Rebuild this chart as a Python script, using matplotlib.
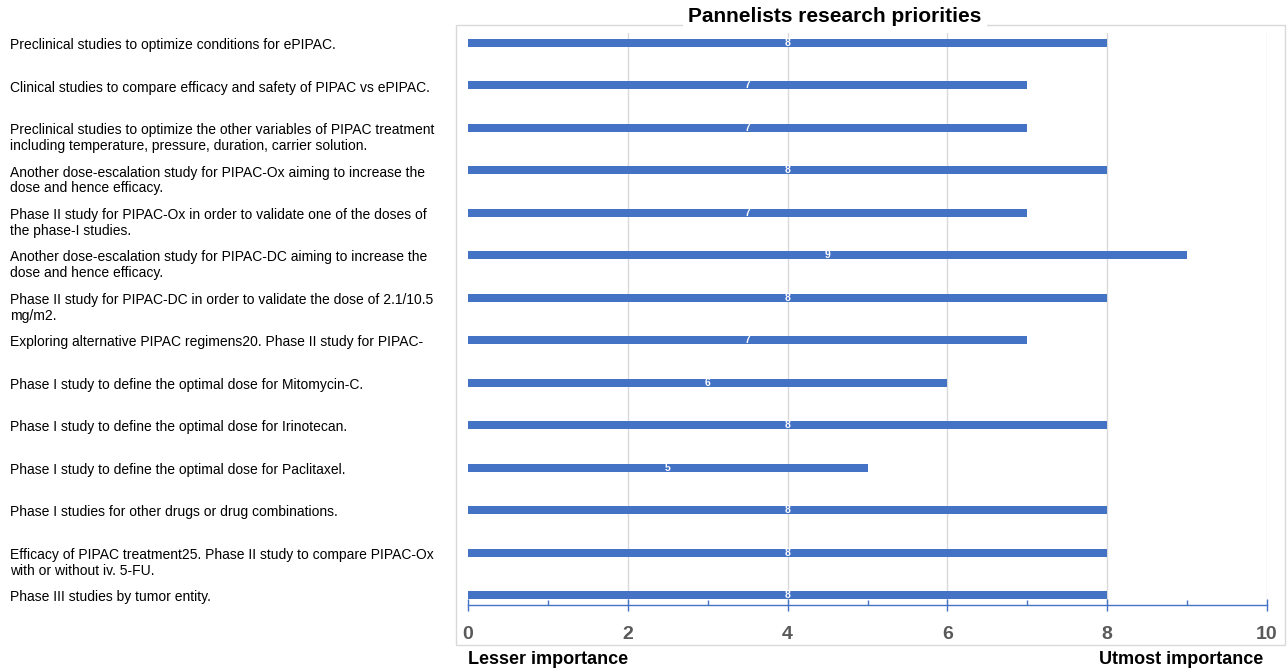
import matplotlib.pyplot as plt
from matplotlib.patches import Rectangle
import numpy as np

# research priorities, top to bottom
priorities = [
    "Preclinical studies to optimize conditions for ePIPAC.",
    "Clinical studies to compare efficacy and safety of PIPAC vs ePIPAC.",
    "Preclinical studies to optimize the other variables of PIPAC treatment\nincluding temperature, pressure, duration, carrier solution.",
    "Another dose-escalation study for PIPAC-Ox aiming to increase the\ndose and hence efficacy.",
    "Phase II study for PIPAC-Ox in order to validate one of the doses of\nthe phase-I studies.",
    "Another dose-escalation study for PIPAC-DC aiming to increase the\ndose and hence efficacy.",
    "Phase II study for PIPAC-DC in order to validate the dose of 2.1/10.5\nmg/m2.",
    "Exploring alternative PIPAC regimens20. Phase II study for PIPAC-",
    "Phase I study to define the optimal dose for Mitomycin-C.",
    "Phase I study to define the optimal dose for Irinotecan.",
    "Phase I study to define the optimal dose for Paclitaxel.",
    "Phase I studies for other drugs or drug combinations.",
    "Efficacy of PIPAC treatment25. Phase II study to compare PIPAC-Ox\nwith or without iv. 5-FU.",
    "Phase III studies by tumor entity.",
]
scores = [8, 7, 7, 8, 7, 9, 8, 7, 6, 8, 5, 8, 8, 8]
major_ticks = [0, 2, 4, 6, 8, 10]
minor_ticks = [1, 3, 5, 7, 9]

BLUE = "#4472C4"
GRID = "#D9D9D9"
narrow = ["Liberation Sans Narrow", "Liberation Sans", "DejaVu Sans"]
regular = ["Liberation Sans", "DejaVu Sans"]

W, H = 1287, 671
fig = plt.figure(figsize=(W / 100, H / 100), dpi=100)

# outer chart frame
fig.patches.append(Rectangle((456 / W, 1 - 645 / H), (1285 - 456) / W, (645 - 25) / H,
                             transform=fig.transFigure, fill=False,
                             edgecolor=GRID, linewidth=1))

ax = fig.add_axes([468 / W, 1 - 605 / H, 799 / W, 572 / H])
ypos = np.arange(len(scores))
ax.barh(ypos, scores, height=0.19, color=BLUE, zorder=3)

# value labels in the middle of each bar
for y, v in zip(ypos, scores):
    ax.text(v / 2, y, str(v), color="white", fontsize=7.5, fontweight="bold",
            ha="center", va="center", family=regular, zorder=4)

# category labels at the left of the figure
for y, lab in zip(ypos, priorities):
    ax.annotate(lab, xy=(10 / W, y), xycoords=("figure fraction", "data"),
                xytext=(0, 3.5), textcoords="offset points",
                ha="left", va="top", fontsize=10, family=regular,
                linespacing=1.18, annotation_clip=False)

ax.set_xlim(0, 10)
ax.set_ylim(len(scores) - 1 + 0.235, -0.235)
ax.set_yticks([])
ax.set_xticks(major_ticks)
ax.set_xticks(minor_ticks, minor=True)
ax.set_xticklabels([str(t) for t in major_ticks], fontsize=14, fontweight="bold",
                   color="#595959", family=narrow)
ax.tick_params(axis="x", which="major", direction="inout", length=8.6,
               color=BLUE, width=1, pad=11)
ax.tick_params(axis="x", which="minor", direction="in", length=3.6,
               color=BLUE, width=1)

for s in ["left", "right", "top"]:
    ax.spines[s].set_visible(False)
ax.spines["bottom"].set_color(BLUE)
ax.spines["bottom"].set_linewidth(1)

ax.xaxis.grid(True, color=GRID, linewidth=1, zorder=0)
ax.xaxis.get_gridlines()[0].set_visible(False)

fig.text(835 / W, 1 - 17 / H, "Pannelists research priorities", ha="center", va="center",
         fontsize=15, fontweight="bold", family=narrow,
         bbox=dict(facecolor="white", edgecolor="none", pad=4))
fig.text(468 / W, 1 - 660 / H, "Lesser importance", ha="left", va="center",
         fontsize=13, fontweight="bold", family=narrow)
fig.text(1263 / W, 1 - 660 / H, "Utmost importance", ha="right", va="center",
         fontsize=13, fontweight="bold", family=narrow)

fig.savefig("out.png", dpi=100)
